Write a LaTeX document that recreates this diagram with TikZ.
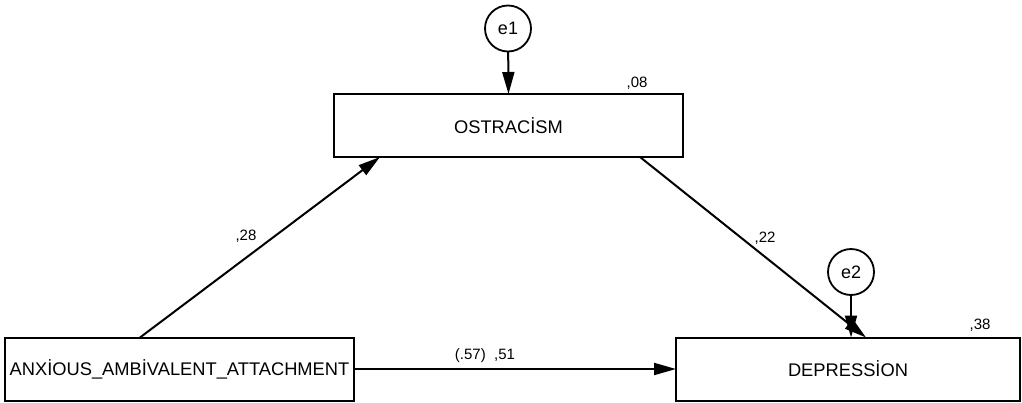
\documentclass[tikz,border=0pt]{standalone}
\usepackage{fontspec}
\setmainfont{Liberation Sans}
\usetikzlibrary{arrows.meta}
\tikzset{
  box/.style={draw, line width=2pt, minimum height=63pt, inner sep=0pt, outer sep=0pt, font=\fontsize{18.3}{21}\selectfont},
  err/.style={draw, circle, line width=1.8pt, minimum size=46pt, inner sep=0pt, outer sep=0pt, font=\fontsize{18}{21}\selectfont},
  path/.style={line width=2pt, -{Triangle[length=22pt,width=12pt]}},
  coef/.style={font=\fontsize{15}{17}\selectfont, inner sep=0pt}
}
\begin{document}
\begin{tikzpicture}[x=1pt,y=-1pt]
\useasboundingbox (0,0) rectangle (1022,402);
\node[box, minimum width=349pt] (anx) at (179.5,369) {ANXİOUS\_AMBİVALENT\_ATTACHMENT};
\node[box, minimum width=349pt] (ost) at (508.5,125.5) {OSTRACİSM};
\node[box, minimum width=344pt] (dep) at (848,369) {DEPRESSİON};
\node[err] (e1) at (508,28.5) {e1};
\node[err] (e2) at (851,272) {e2};
\draw[path] (e1) -- (ost.north);
\draw[path] (e2) -- (e2 |- dep.north);
\draw[path] ([xshift=135pt]anx.north west) -- ([xshift=46pt]ost.south west);
\draw[path] ([xshift=306pt]ost.south west) -- ([xshift=190pt]dep.north west);
\draw[path] (anx.east) -- (dep.west);
\node[coef] (c08) at (637,83) {,08};
\node[coef] (c28) at (246,236) {,28};
\node[coef] (c22) at (765,238) {,22};
\node[coef] (c38) at (980,325) {,38};
\node[coef] (c51) at (485,356) {(.57)\ \ ,51};
\end{tikzpicture}
\end{document}
